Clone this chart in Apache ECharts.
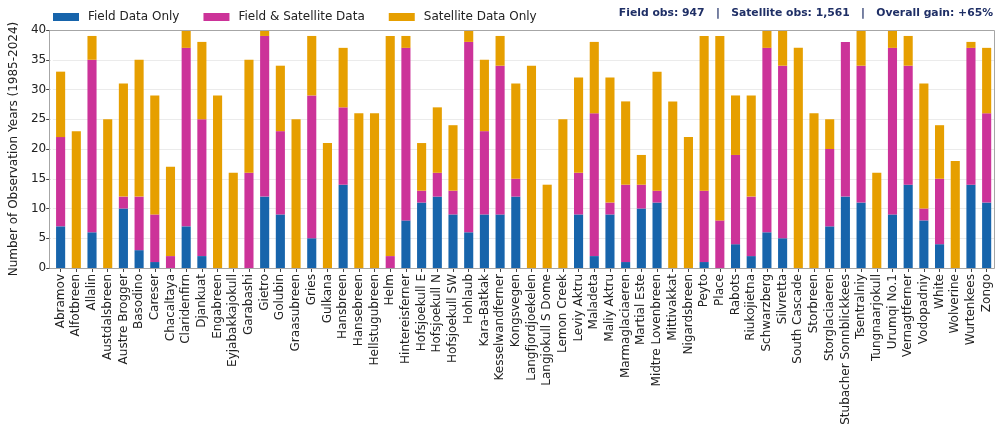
<!DOCTYPE html>
<html>
<head>
<meta charset="utf-8">
<script src="https://cdn.jsdelivr.net/npm/echarts@6/dist/echarts.min.js"></script>
<style>
  html, body { margin: 0; padding: 0; background: #ffffff; }
  #chart { width: 997px; height: 432px; }
</style>
</head>
<body>
<div id="chart"></div>
<script>
// Glaciers in alphabetical order
const glaciers = [
  'Abramov', 'Alfotbreen', 'Allalin', 'Austdalsbreen', 'Austre Brogger', 'Basodino',
  'Careser', 'Chacaltaya', 'Claridenfirn', 'Djankuat', 'Engabreen', 'Eyjabakkajokull',
  'Garabashi', 'Gietro', 'Golubin', 'Graasubreen', 'Gries', 'Gulkana', 'Hansbreen',
  'Hansebreen', 'Hellstugubreen', 'Helm', 'Hintereisferner', 'Hofsjoekull E',
  'Hofsjoekull N', 'Hofsjoekull SW', 'Hohlaub', 'Kara-Batkak', 'Kesselwandferner',
  'Kongsvegen', 'Langfjordjoekelen', 'Langjokull S Dome', 'Lemon Creek', 'Leviy Aktru',
  'Maladeta', 'Maliy Aktru', 'Marmaglaciaeren', 'Martial Este', 'Midtre Lovenbreen',
  'Mittivakkat', 'Nigardsbreen', 'Peyto', 'Place', 'Rabots', 'Riukojietna', 'Schwarzberg',
  'Silvretta', 'South Cascade', 'Storbreen', 'Storglaciaeren', 'Stubacher Sonnblickkees',
  'Tsentralniy', 'Tungnaarjokull', 'Urumqi No.1', 'Vernagtferner', 'Vodopadniy', 'White',
  'Wolverine', 'Wurtenkees', 'Zongo'
];

// Years with field measurements only
const fieldOnly = [
  7, 0, 6, 0, 10, 3, 1, 0, 7, 2, 0, 0, 0, 12, 9, 0, 5, 0, 14, 0,
  0, 0, 8, 11, 12, 9, 6, 9, 9, 12, 0, 0, 0, 9, 2, 9, 1, 10, 11, 0,
  0, 1, 0, 4, 2, 6, 5, 0, 0, 7, 12, 11, 0, 9, 14, 8, 4, 0, 14, 11
];

// Years covered by both field and satellite data
const fieldAndSatellite = [
  15, 0, 29, 0, 2, 9, 8, 2, 30, 23, 0, 0, 16, 27, 14, 0, 24, 0, 13, 0,
  0, 2, 29, 2, 4, 4, 32, 14, 25, 3, 0, 0, 0, 7, 24, 2, 13, 4, 2, 0,
  0, 12, 8, 15, 10, 31, 29, 0, 0, 13, 26, 23, 0, 28, 20, 2, 11, 0, 23, 15
];

// Years with satellite-derived estimates only
const satelliteOnly = [
  11, 23, 4, 25, 19, 23, 20, 15, 3, 13, 29, 16, 19, 1, 11, 25, 10, 21, 10, 26,
  26, 37, 2, 8, 11, 11, 2, 12, 5, 16, 34, 14, 25, 16, 12, 21, 14, 5, 20, 28,
  22, 26, 31, 10, 17, 3, 6, 37, 26, 5, 0, 6, 16, 3, 5, 21, 9, 18, 1, 11
];

const seriesNames = ['Field Data Only', 'Field & Satellite Data', 'Satellite Data Only'];
const seriesColors = ['#1764ab', '#cc3399', '#e69f00'];

const sum = a => a.reduce((s, v) => s + v, 0);
const fieldObs = sum(fieldOnly) + sum(fieldAndSatellite);
const satelliteObs = sum(fieldAndSatellite) + sum(satelliteOnly);
const gainPct = Math.round((satelliteObs / fieldObs - 1) * 100);
const summaryText = 'Field obs: ' + fieldObs.toLocaleString('en-US') +
  '   |   Satellite obs: ' + satelliteObs.toLocaleString('en-US') +
  '   |   Overall gain: +' + gainPct + '%';

const FONT = '"DejaVu Sans", sans-serif';
const chart = echarts.init(document.getElementById('chart'), null, { renderer: 'canvas' });

// Plot box geometry
const plotLeft = 51.6, plotTop = 30, plotWidth = 942.9, plotHeight = 238;
const frameLeft = 49;

const stackSeries = [fieldOnly, fieldAndSatellite, satelliteOnly].map((values, i) => ({
  name: seriesNames[i],
  type: 'bar',
  stack: 'years',
  barWidth: '58%',
  itemStyle: { color: seriesColors[i] },
  emphasis: { disabled: true },
  data: values
}));

chart.setOption({
  animation: false,
  backgroundColor: '#ffffff',
  textStyle: { fontFamily: FONT },
  legend: {
    data: seriesNames,
    left: 48,
    top: 6,
    icon: 'rect',
    itemWidth: 26,
    itemHeight: 8,
    itemGap: 24,
    textStyle: { fontFamily: FONT, fontSize: 12, color: '#222222', padding: [0, 0, 0, 4] }
  },
  grid: {
    left: plotLeft,
    top: plotTop,
    width: plotWidth,
    height: plotHeight,
    containLabel: false
  },
  xAxis: {
    type: 'category',
    data: glaciers,
    boundaryGap: true,
    axisLine: { show: false },
    axisTick: { show: true, alignWithLabel: true, length: 4, lineStyle: { color: '#444444' } },
    axisLabel: {
      interval: 0,
      rotate: 90,
      margin: 6,
      fontFamily: FONT,
      fontSize: 12,
      color: '#222222'
    },
    splitLine: { show: false }
  },
  yAxis: {
    type: 'value',
    min: 0,
    max: 40,
    interval: 5,
    offset: plotLeft - frameLeft,
    name: 'Number of Observation Years (1985-2024)',
    nameLocation: 'middle',
    nameGap: 23,
    nameTextStyle: { fontFamily: FONT, fontSize: 12, color: '#222222' },
    axisLine: { show: false },
    axisTick: { show: true, length: 4, lineStyle: { color: '#444444' } },
    axisLabel: { fontFamily: FONT, fontSize: 12, color: '#222222', margin: 4 },
    splitLine: { show: true, lineStyle: { color: '#ebebeb', width: 1 } }
  },
  series: stackSeries,
  graphic: [
    {
      type: 'rect',
      silent: true,
      z: 10,
      shape: {
        x: frameLeft + 0.5,
        y: plotTop + 0.5,
        width: plotLeft + plotWidth - frameLeft - 0.5,
        height: plotHeight
      },
      style: { fill: null, stroke: '#a6a6a6', lineWidth: 1 }
    },
    {
      type: 'text',
      right: 4,
      top: 8,
      style: {
        text: summaryText,
        fontFamily: FONT,
        fontSize: 10.8,
        fontWeight: 'bold',
        fill: '#1f2f66'
      }
    }
  ]
});
</script>
</body>
</html>
